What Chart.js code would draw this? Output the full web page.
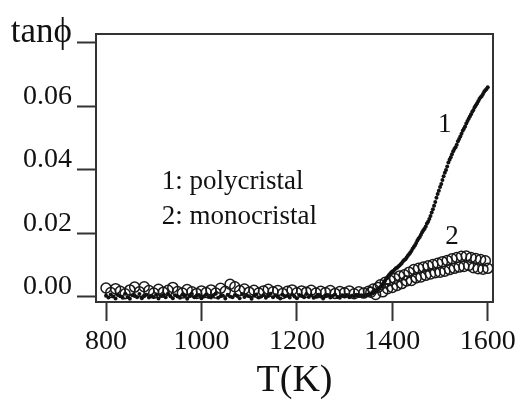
<!DOCTYPE html>
<html>
<head>
<meta charset="utf-8">
<script src="https://cdn.jsdelivr.net/npm/chart.js@4/dist/chart.umd.min.js"></script>
<style>
  html, body { margin: 0; padding: 0; background: #fff; }
  canvas { display: block; }
</style>
</head>
<body>
<canvas id="tanChart" width="521" height="400"></canvas>
<script>
// --- Dados ---
// Série 1: policristal (pontos cheios)
const tPoly = [
  800, 805, 810, 815, 820, 825, 830, 835, 840, 845, 850, 855, 860, 865, 870, 875, 880, 885, 890, 895,
  900, 905, 910, 915, 920, 925, 930, 935, 940, 945, 950, 955, 960, 965, 970, 975, 980, 985, 990, 995,
  1000, 1005, 1010, 1015, 1020, 1025, 1030, 1035, 1040, 1045, 1050, 1055, 1060, 1065, 1070, 1075,
  1080, 1085, 1090, 1095, 1100, 1105, 1110, 1115, 1120, 1125, 1130, 1135, 1140, 1145, 1150, 1155,
  1160, 1165, 1170, 1175, 1180, 1185, 1190, 1195, 1200, 1205, 1210, 1215, 1220, 1225, 1230, 1235,
  1240, 1245, 1250, 1255, 1260, 1265, 1270, 1275, 1280, 1285, 1290, 1295, 1300, 1305, 1310, 1315,
  1320, 1325, 1330, 1335, 1340, 1345, 1350,
  1355, 1357.5, 1360, 1362.5, 1365, 1367.5, 1370, 1372.5, 1375, 1377.5, 1380, 1382.5, 1385, 1387.5,
  1390, 1392.5, 1395, 1397.5, 1400, 1402.5, 1405, 1407.5, 1410, 1412.5, 1415, 1417.5, 1420, 1422.5,
  1425, 1427.5, 1430, 1432.5, 1435, 1437.5, 1440, 1442.5, 1445, 1447.5, 1450, 1452.5, 1455, 1457.5,
  1460, 1462.5, 1465, 1467.5, 1470, 1472.5, 1475, 1477.5, 1480, 1482.5, 1485, 1487.5, 1490, 1492.5,
  1495, 1497.5, 1500, 1502.5, 1505, 1507.5, 1510, 1512.5, 1515, 1517.5, 1520, 1522.5, 1525, 1527.5,
  1530, 1532.5, 1535, 1537.5, 1540, 1542.5, 1545, 1547.5, 1550, 1552.5, 1555, 1557.5, 1560, 1562.5,
  1565, 1567.5, 1570, 1572.5, 1575, 1577.5, 1580, 1582.5, 1585, 1587.5, 1590, 1592.5, 1595, 1597.5,
  1600
];
const tanPoly = [
  0.0004, -0.0002, 0.0008, 0.0001, -0.0005, 0.0006, 0.0002, -0.0003, 0.0010, 0.0000,
  -0.0006, 0.0005, 0.0003, -0.0001, 0.0009, -0.0004, 0.0002, 0.0007, -0.0002, 0.0004,
  0.0000, 0.0008, -0.0005, 0.0003, 0.0006, -0.0001, 0.0011, 0.0002, -0.0004, 0.0005,
  0.0001, -0.0003, 0.0007, 0.0004, -0.0006, 0.0002, 0.0009, -0.0001, 0.0003, 0.0006,
  -0.0004, 0.0001, 0.0008, 0.0000, -0.0002, 0.0005, 0.0010, -0.0003, 0.0002, 0.0004,
  -0.0005, 0.0007, 0.0001, -0.0001, 0.0006, 0.0003, -0.0004, 0.0009, 0.0000, 0.0005,
  0.0002, -0.0006, 0.0004, 0.0008, -0.0002, 0.0001, 0.0006, -0.0003, 0.0003, 0.0010,
  -0.0001, 0.0005, 0.0000, -0.0005, 0.0007, 0.0002, 0.0004, -0.0002, 0.0008, 0.0001,
  -0.0004, 0.0006, 0.0003, -0.0001, 0.0009, 0.0000, 0.0005, -0.0003, 0.0002, 0.0007,
  0.0001, -0.0005, 0.0004, 0.0006, -0.0002, 0.0003, 0.0008, 0.0000, -0.0003, 0.0005,
  0.0002, 0.0006, -0.0001, 0.0004, 0.0001, 0.0007, 0.0003, 0.0005, 0.0002, 0.0006,
  0.0008,
  0.0010, 0.0011, 0.0013, 0.0016, 0.0018, 0.0022, 0.0024, 0.0028, 0.0031, 0.0037, 0.0041, 0.0047,
  0.0052, 0.0058, 0.0063, 0.0068, 0.0072, 0.0077, 0.0080, 0.0082, 0.0086, 0.0090, 0.0092, 0.0096,
  0.0099, 0.0103, 0.0107, 0.0112, 0.0116, 0.0119, 0.0124, 0.0130, 0.0134, 0.0139, 0.0145, 0.0152,
  0.0157, 0.0163, 0.0170, 0.0178, 0.0184, 0.0189, 0.0196, 0.0204, 0.0210, 0.0215, 0.0222, 0.0231,
  0.0237, 0.0245, 0.0255, 0.0266, 0.0276, 0.0287, 0.0299, 0.0312, 0.0324, 0.0334, 0.0346, 0.0356,
  0.0368, 0.0380, 0.0391, 0.0400, 0.0411, 0.0423, 0.0432, 0.0440, 0.0449, 0.0459, 0.0466, 0.0471,
  0.0479, 0.0490, 0.0497, 0.0505, 0.0514, 0.0523, 0.0530, 0.0537, 0.0546, 0.0554, 0.0561, 0.0568,
  0.0575, 0.0583, 0.0589, 0.0597, 0.0604, 0.0609, 0.0616, 0.0623, 0.0629, 0.0633, 0.0639, 0.0646,
  0.0651, 0.0655, 0.0660
];

// Série 2: monocristal (círculos abertos)
const tMono = [
  800, 810, 820, 830, 840, 850, 860, 870, 880, 890, 900, 910, 920, 930, 940, 950, 960, 970, 980, 990,
  1000, 1010, 1020, 1030, 1040, 1050, 1060, 1070, 1080, 1090, 1100, 1110, 1120, 1130, 1140, 1150,
  1160, 1170, 1180, 1190, 1200, 1210, 1220, 1230, 1240, 1250, 1260, 1270, 1280, 1290, 1300, 1310,
  1320, 1330, 1340, 1350,
  1355, 1360, 1365, 1370, 1375, 1380, 1385, 1390, 1395, 1400, 1405, 1410, 1415, 1420, 1425, 1430,
  1435, 1440, 1445, 1450, 1455, 1460, 1465, 1470, 1475, 1480, 1485, 1490, 1495, 1500, 1505, 1510,
  1515, 1520, 1525, 1530, 1535, 1540, 1545, 1550, 1555, 1560, 1565, 1570, 1575, 1580, 1585, 1590,
  1595, 1600
];
const tanMono = [
  0.0028, 0.0014, 0.0026, 0.0018, 0.0010, 0.0022, 0.0031, 0.0016, 0.0032, 0.0020, 0.0012, 0.0024,
  0.0015, 0.0021, 0.0030, 0.0017, 0.0012, 0.0023, 0.0016, 0.0011, 0.0019, 0.0014, 0.0022, 0.0012,
  0.0027, 0.0018, 0.0040, 0.0032, 0.0020, 0.0025, 0.0015, 0.0021, 0.0012, 0.0019, 0.0024, 0.0016,
  0.0020, 0.0011, 0.0018, 0.0022, 0.0013, 0.0019, 0.0015, 0.0021, 0.0012, 0.0018, 0.0014, 0.0020,
  0.0011, 0.0017, 0.0013, 0.0019, 0.0010, 0.0016, 0.0012, 0.0018,
  0.0015, 0.0025, 0.0008, 0.0030, 0.0038, 0.0016, 0.0046, 0.0026, 0.0052, 0.0030, 0.0058, 0.0036,
  0.0066, 0.0042, 0.0070, 0.0050, 0.0078, 0.0052, 0.0086, 0.0060, 0.0090, 0.0063, 0.0094, 0.0068,
  0.0098, 0.0072, 0.0102, 0.0076, 0.0106, 0.0078, 0.0111, 0.0081, 0.0115, 0.0086, 0.0120, 0.0090,
  0.0124, 0.0094, 0.0128, 0.0096, 0.0129, 0.0099, 0.0124, 0.0092, 0.0121, 0.0089, 0.0118, 0.0087,
  0.0114, 0.0090
];

// Ticks dos eixos
const xTicks = [800, 1000, 1200, 1400, 1600];
const yTicks = [0.00, 0.02, 0.04, 0.06, 0.08];
const yTopLabel = 'tan\u03D5';
const xTitle = 'T(K)';

// Textos dentro do gráfico (posição em unidades de dados)
const notes = [
  { text: '1: polycristal', x: 917, y: 0.0362, align: 'left' },
  { text: '2: monocristal', x: 917, y: 0.0252, align: 'left' },
  { text: '1', x: 1510, y: 0.0541, align: 'center' },
  { text: '2', x: 1525, y: 0.0189, align: 'center' }
];

const serif = "'Liberation Serif', 'Times New Roman', serif";
const ink = '#111';
const axisColor = '#333';

function toPoints(xs, ys) {
  return xs.map((x, i) => ({ x: x, y: ys[i] }));
}

// Moldura (topo e lado direito) + textos
const framePlugin = {
  id: 'frame',
  beforeDatasetsDraw(chart) {
    const { ctx, chartArea: a } = chart;
    ctx.save();
    ctx.strokeStyle = axisColor;
    ctx.lineWidth = 2;
    ctx.beginPath();
    ctx.moveTo(a.left, a.top);
    ctx.lineTo(a.right, a.top);
    ctx.lineTo(a.right, a.bottom);
    ctx.stroke();
    ctx.restore();
  },
  afterDatasetsDraw(chart) {
    const { ctx, scales } = chart;
    ctx.save();
    ctx.fillStyle = ink;
    ctx.font = '27px ' + serif;
    ctx.textBaseline = 'middle';
    notes.forEach(n => {
      ctx.textAlign = n.align;
      ctx.fillText(n.text, scales.x.getPixelForValue(n.x), scales.y.getPixelForValue(n.y));
    });
    ctx.restore();
  }
};

const ctx = document.getElementById('tanChart').getContext('2d');
new Chart(ctx, {
  type: 'scatter',
  data: {
    datasets: [
      {
        label: '1: polycristal',
        data: toPoints(tPoly, tanPoly),
        pointRadius: 2,
        pointBackgroundColor: ink,
        pointBorderWidth: 0,
        showLine: false
      },
      {
        label: '2: monocristal',
        data: toPoints(tMono, tanMono),
        pointRadius: 5,
        pointBackgroundColor: 'rgba(0,0,0,0)',
        pointBorderColor: '#1a1a1a',
        pointBorderWidth: 1.5,
        showLine: false
      }
    ]
  },
  options: {
    responsive: false,
    animation: false,
    layout: { padding: { top: 34, right: 28, left: 0, bottom: 0 } },
    plugins: {
      legend: { display: false },
      tooltip: { enabled: false }
    },
    scales: {
      x: {
        type: 'linear',
        min: 779,
        max: 1611,
        afterBuildTicks: s => { s.ticks = xTicks.map(v => ({ value: v })); },
        afterFit: s => { s.height = 98; s.paddingLeft = 0; s.paddingRight = 0; },
        border: { display: true, color: axisColor, width: 2 },
        grid: { drawOnChartArea: false, drawTicks: true, tickLength: 19, tickColor: axisColor, tickWidth: 2 },
        ticks: {
          color: ink,
          font: { family: serif, size: 28 },
          padding: 4,
          maxRotation: 0,
          autoSkip: false,
          callback: v => String(v)
        },
        title: {
          display: true,
          text: xTitle,
          color: ink,
          font: { family: serif, size: 38, lineHeight: 1 },
          padding: { top: 0, bottom: 0 }
        }
      },
      y: {
        type: 'linear',
        min: -0.0016,
        max: 0.0828,
        afterBuildTicks: s => { s.ticks = yTicks.map(v => ({ value: v })); },
        afterFit: s => { s.width = 96; s.paddingTop = 0; s.paddingBottom = 0; },
        border: { display: true, color: axisColor, width: 2 },
        grid: { drawOnChartArea: false, drawTicks: true, tickLength: 19, tickColor: axisColor, tickWidth: 2 },
        ticks: {
          color: ink,
          padding: 5,
          labelOffset: -10,
          autoSkip: false,
          font: c => ({ family: serif, size: (c.tick && Math.abs(c.tick.value - 0.08) < 1e-6) ? 35 : 28 }),
          callback: v => (Math.abs(v - 0.08) < 1e-6 ? yTopLabel : v.toFixed(2))
        }
      }
    }
  },
  plugins: [framePlugin]
});
</script>
</body>
</html>
